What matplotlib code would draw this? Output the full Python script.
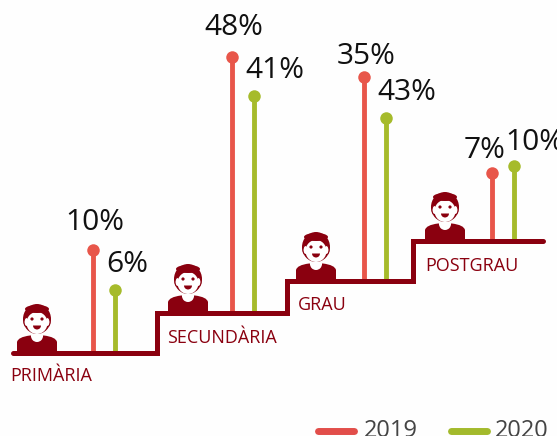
import matplotlib
matplotlib.use("Agg")
import matplotlib.pyplot as plt
from matplotlib.patches import Ellipse, Polygon, PathPatch, Wedge
from matplotlib.path import Path

plt.rcParams['font.family'] = ['Open Sans', 'DejaVu Sans']

categories = ['PRIMÀRIA', 'SECUNDÀRIA', 'GRAU', 'POSTGRAU']
labels_2019 = ['10%', '48%', '35%', '7%']
labels_2020 = ['6%', '41%', '43%', '10%']
step_levels = [83, 123, 155, 195]
stem_2019 = [103, 256, 204, 68]
stem_2020 = [63, 217, 163, 75]
x_2019 = [93, 232, 364, 491.5]
x_2020 = [115, 254, 386, 514]
label_x_2019 = [95, 234, 366, 485]
label_y_2019 = [214, 408, 380, 285]
label_x_2020 = [127, 275, 407, 535]
label_y_2020 = [171, 365, 344, 294]
years = ['2019', '2020']

RED, GREEN, DARK = '#e8564a', '#a6bb2b', '#8a000f'
TEXT = '#111111'

fig = plt.figure(figsize=(5.57, 4.36), dpi=100, facecolor='#fefefe')
ax = fig.add_axes([0, 0, 1, 1])
ax.set_xlim(0, 557)
ax.set_ylim(0, 436)
ax.axis('off')

# staircase
edges = [13, 157, 287, 413, 543]
sx, sy = [], []
for i, lvl in enumerate(step_levels):
    sx += [edges[i], edges[i + 1]]
    sy += [lvl, lvl]
ax.plot(sx, sy, color=DARK, lw=3.6, solid_capstyle='round', solid_joinstyle='miter', zorder=3)


def person(cx, base):
    verts = [(-20, 0), (-20, 10), (-19, 15), (-7, 16.5), (7, 16.5), (19, 15), (20, 10), (20, 0), (-20, 0)]
    codes = [Path.MOVETO, Path.LINETO, Path.CURVE3, Path.CURVE3, Path.LINETO, Path.CURVE3, Path.CURVE3, Path.LINETO, Path.CLOSEPOLY]
    ax.add_patch(PathPatch(Path([(cx + a, base + b) for a, b in verts], codes), fc=DARK, lw=0, zorder=4))
    # neck
    ax.add_patch(Polygon([(cx - 6, base + 18), (cx + 6, base + 18), (cx + 6, base + 15), (cx - 6, base + 15)], lw=0, fc='white', zorder=5))
    ax.add_patch(Wedge((cx, base + 16), 6, 180, 360, fc='white', lw=0, zorder=5))
    # head and hair
    ax.add_patch(Ellipse((cx, base + 33), 28, 30, fc=DARK, lw=0, zorder=6))
    # ears
    ax.add_patch(Ellipse((cx - 10.5, base + 30), 5, 9, fc='white', ec=DARK, lw=0.8, zorder=6))
    ax.add_patch(Ellipse((cx + 10.5, base + 30), 5, 9, fc='white', ec=DARK, lw=0.8, zorder=6))
    # face
    ax.add_patch(Ellipse((cx, base + 29), 21, 22, fc='white', lw=0, zorder=7))
    # fringe
    ax.add_patch(Ellipse((cx, base + 43), 24, 8, fc=DARK, lw=0, zorder=8))
    # eyes and mouth
    ax.add_patch(Ellipse((cx - 5, base + 33), 3.2, 3.2, fc=DARK, lw=0, zorder=9))
    ax.add_patch(Ellipse((cx + 5, base + 33), 3.2, 3.2, fc=DARK, lw=0, zorder=9))
    ax.add_patch(Wedge((cx, base + 26.5), 4, 180, 360, fc=DARK, lw=0, zorder=9))


icon_x = [37, 188, 316, 445]
for c, lvl in zip(icon_x, step_levels):
    person(c, lvl + 1)

# lollipops
for xs, stems, col in [(x_2019, stem_2019, RED), (x_2020, stem_2020, GREEN)]:
    for x, h, lvl in zip(xs, stems, step_levels):
        ax.plot([x, x], [lvl, lvl + h], color=col, lw=3.5, solid_capstyle='butt', zorder=2)
        ax.plot([x], [lvl + h], 'o', color=col, ms=9, mew=0, zorder=2)

for xs, ys, labs in [(label_x_2019, label_y_2019, labels_2019), (label_x_2020, label_y_2020, labels_2020)]:
    for x, y, lab in zip(xs, ys, labs):
        ax.text(x, y, lab, fontsize=21.5, color=TEXT, ha='center', va='center', zorder=6, clip_on=False)

# category labels
cat_x = [10, 167, 298, 425]
cat_off = [-21, -23, -22, -23]
for n, x, lvl, off in zip(categories, cat_x, step_levels, cat_off):
    ax.text(x, lvl + off - 2, n, fontsize=13, color=DARK, ha='left', va='center')

# legend
ax.plot([318, 354], [5.5, 5.5], color='#e24e4a', lw=5, solid_capstyle='round')
ax.plot([451, 487], [5.5, 5.5], color='#a3ba2c', lw=5, solid_capstyle='round')
ax.text(364, 5, years[0], fontsize=17, color='#444444', ha='left', va='center')
ax.text(495, 5, years[1], fontsize=17, color='#444444', ha='left', va='center')

fig.savefig('out.png', dpi=100, facecolor=fig.get_facecolor())
